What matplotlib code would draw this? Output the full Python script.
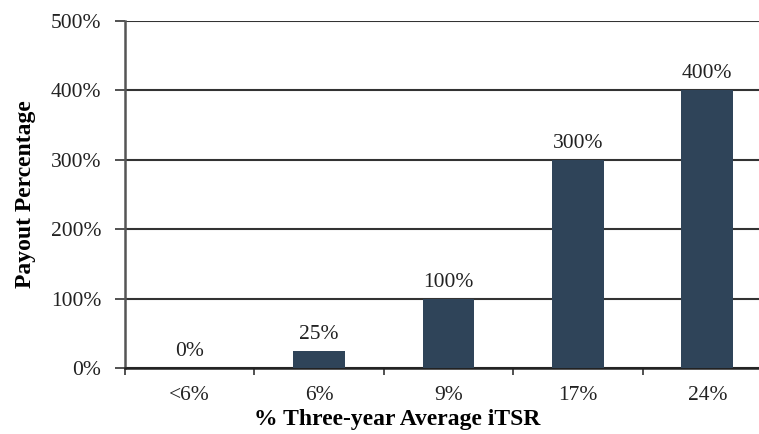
import numpy as np
import matplotlib.pyplot as plt

categories = ['<6%', '6%', '9%', '17%', '24%']
payout = [0, 25, 100, 300, 400]
bar_labels = ['0%', '25%', '100%', '300%', '400%']
ytick_values = [0, 100, 200, 300, 400, 500]

plt.rcParams['font.family'] = 'Liberation Serif'

fig = plt.figure(figsize=(7.59, 4.34), dpi=100)
ax = fig.add_axes([125 / 759, 66 / 434, 647 / 759, 347 / 434])

x = np.arange(len(categories))
bars = ax.bar(x, payout, width=0.4, color='#2f4459', zorder=3)

for xi, v, lab in zip(x, payout, bar_labels):
    ax.text(xi, v + 10, lab, ha='center', va='bottom', fontsize=15.5, color='#222222')

ax.set_xlim(-0.5, len(categories) - 0.5)
ax.set_ylim(0, 500)
ax.set_yticks(ytick_values)
ax.set_yticklabels([f'{v}%' for v in ytick_values], fontsize=15.5, color='#222222')
ax.set_xticks(x)
ax.set_xticklabels(categories, fontsize=15.5, color='#222222')
ax.set_xticks(np.arange(len(categories) + 1) - 0.5, minor=True)
ax.tick_params(axis='x', which='major', length=0, pad=13)
ax.tick_params(axis='x', which='minor', length=5, width=1.2, color='#333333')
ax.tick_params(axis='y', length=7, width=1.2, color='#333333', pad=10)

ax.yaxis.grid(True, color='#333333', linewidth=1.5, zorder=0)
for s in ['top', 'right']:
    ax.spines[s].set_visible(False)
ax.spines['left'].set_color('#555555')
ax.spines['left'].set_linewidth(1.8)
ax.spines['bottom'].set_color('#222222')
ax.spines['bottom'].set_linewidth(1.8)

ax.set_ylabel('Payout Percentage', fontsize=17, fontweight='bold')
ax.yaxis.set_label_coords(-0.137, 0.5)
ax.set_xlabel('% Three-year Average iTSR', fontsize=17, fontweight='bold')
ax.xaxis.set_label_coords((397 - 125) / 647, -0.118)

fig.savefig('out.png', dpi=100)
